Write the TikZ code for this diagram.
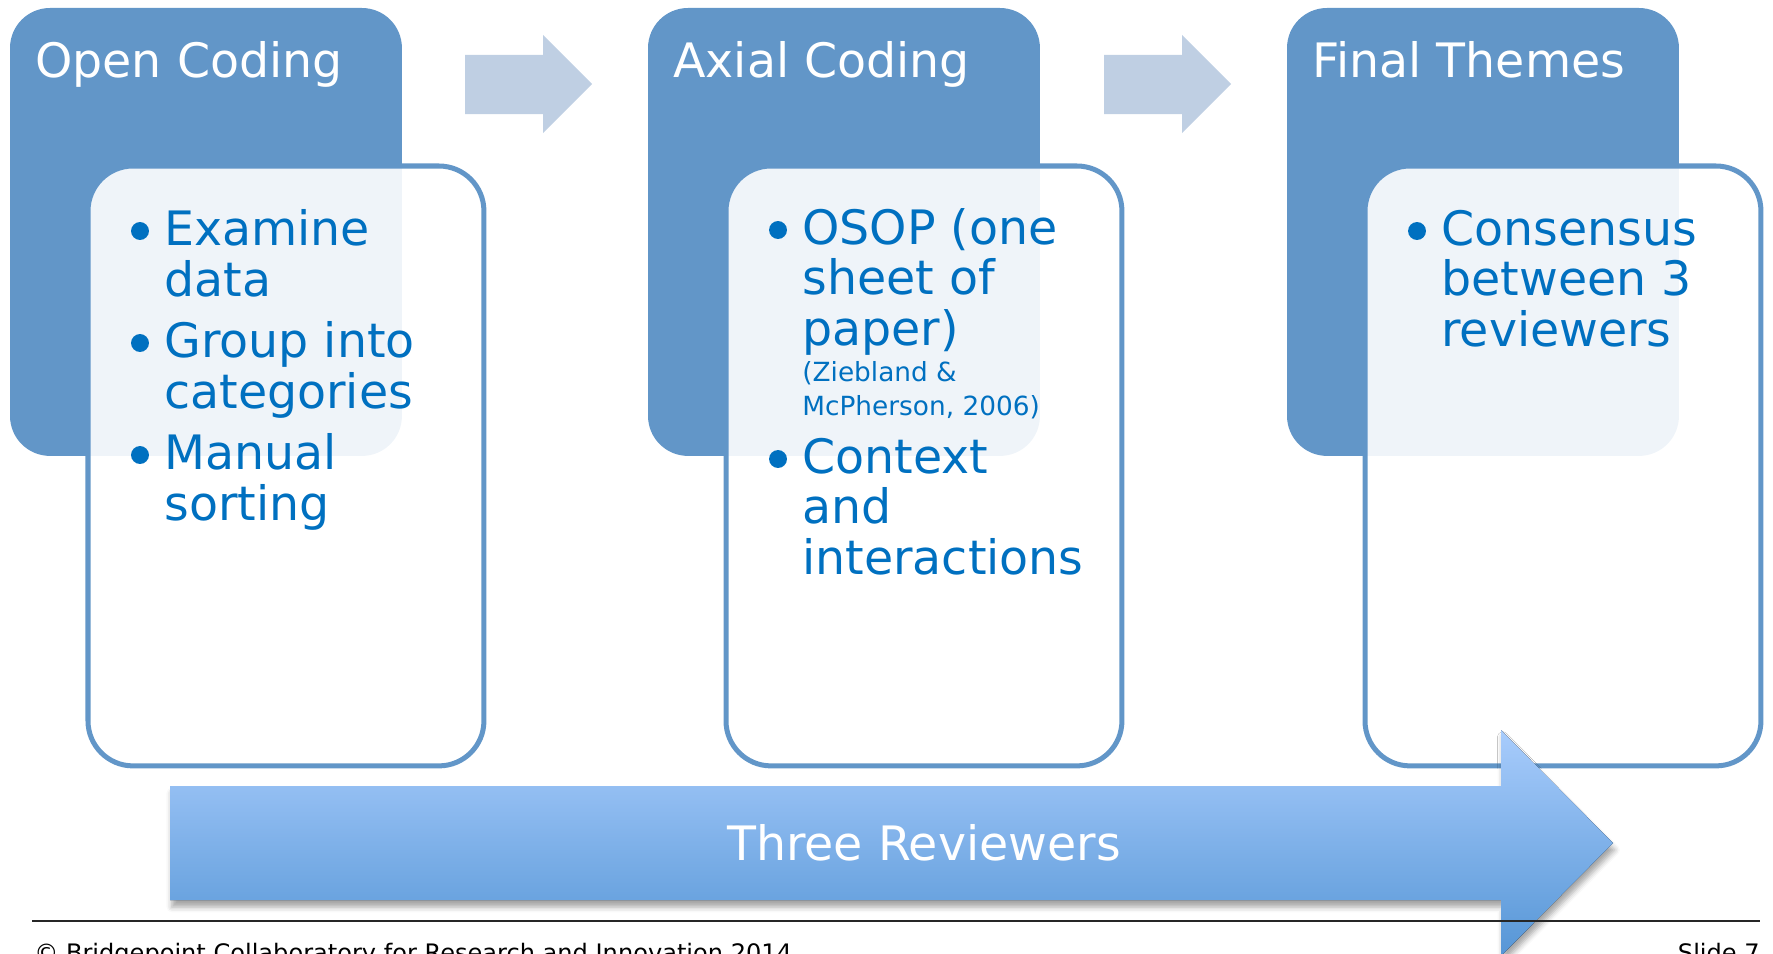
\documentclass[tikz,border=0pt]{standalone}
\usepackage{fontspec}
\setmainfont{DejaVu Sans}
\usetikzlibrary{calc,shadows.blur}

\definecolor{stageblue}{RGB}{98,150,200}
\definecolor{textblue}{RGB}{0,112,192}
\definecolor{arrowgrey}{RGB}{191,207,227}
\definecolor{bandtop}{RGB}{168,204,252}
\definecolor{bandbottom}{RGB}{86,150,214}

\tikzset{
  stage/.style={fill=stageblue, rounded corners=0.8cm, anchor=north west,
                minimum width=7.84cm, minimum height=8.96cm,
                inner sep=0pt, outer sep=0pt},
  panel/.style={draw=stageblue, line width=2.85pt, fill=white, fill opacity=0.9,
                rounded corners=0.9cm, anchor=north west,
                minimum width=7.92cm, minimum height=12cm,
                inner sep=0pt, outer sep=0pt},
  stagetitle/.style={anchor=base west, text=white, inner sep=0pt,
                     font=\fontsize{27}{32}\selectfont},
  item/.style={anchor=base west, align=left, text=textblue, inner sep=0pt,
               font=\fontsize{27}{28.5}\selectfont},
  cite/.style={item, font=\fontsize{15}{18.8}\selectfont},
  foot/.style={inner sep=0pt, text=black, font=\fontsize{13.7}{16}\selectfont},
}

\begin{document}
\begin{tikzpicture}[x=0.02cm, y=-0.02cm]
\useasboundingbox (0,0) rectangle (1773,953);
\clip (0,0) rectangle (1773,953);

% three stages: header block, title, and the panel laid over it
\foreach \dx/\name/\title in {0/open/Open Coding,
                              638/axial/Axial Coding,
                              1277/final/Final Themes}
{
  \node[stage] (\name) at (10+\dx,8) {};
  \node[stagetitle] (\name-title) at (35+\dx,77) {\title};
  \node[panel] (\name-panel) at (88+\dx,166) {};
}

% light arrows between the stages
\foreach \dx in {0,639}
  \fill[arrowgrey] (465+\dx,55) -- ++(78,0) -- ++(0,-20) -- ++(49,49)
    -- ++(-49,49) -- ++(0,-19) -- ++(-78,0) -- cycle;

% bullet points (nodes sit on the baseline of their last line)
\node[item] (oc1) at (164,296) {Examine\\data};
\node[item] (oc2) at (164,408) {Group into\\categories};
\node[item] (oc3) at (164,520) {Manual\\sorting};
\node[item] (ac1) at (802,345) {OSOP (one\\sheet of\\paper)};
\node[cite] (ac-cite) at (802,415) {(Ziebland \&\\McPherson, 2006)};
\node[item] (ac2) at (802,574) {Context\\and\\interactions};
\node[item] (ft1) at (1441,346) {Consensus\\between 3\\reviewers};
\foreach \n/\k in {oc1/1,oc2/1,oc3/1,ac1/2,ac2/2,ft1/2}
  \fill[textblue] ($(\n.base west)+(-24,-15-50*\k)$) circle (5.1pt);

% big arrow along the bottom
\fill[top color=bandtop, bottom color=bandbottom,
      blur shadow={shadow xshift=1pt, shadow yshift=-4pt,
                   shadow blur radius=3pt, shadow opacity=35}]
  (170,786) -- (1501,786) -- (1501,730) -- (1613,843)
  -- (1501,956) -- (1501,900) -- (170,900) -- cycle;
\node[anchor=base, text=white, inner sep=0pt,
      font=\fontsize{27}{32}\selectfont] (rev) at (924,860) {Three Reviewers};

% footer
\coordinate (rule-l) at (32,921);
\coordinate (rule-r) at (1760,921);
\draw[line width=0.7pt, black!85] (rule-l) -- (rule-r);
\node[foot, anchor=base west] (copy) at (34,961)
  {© Bridgepoint Collaboratory for Research and Innovation 2014};
\node[foot, anchor=base east] (slide) at (1760,961) {Slide 7};
\end{tikzpicture}
\end{document}
